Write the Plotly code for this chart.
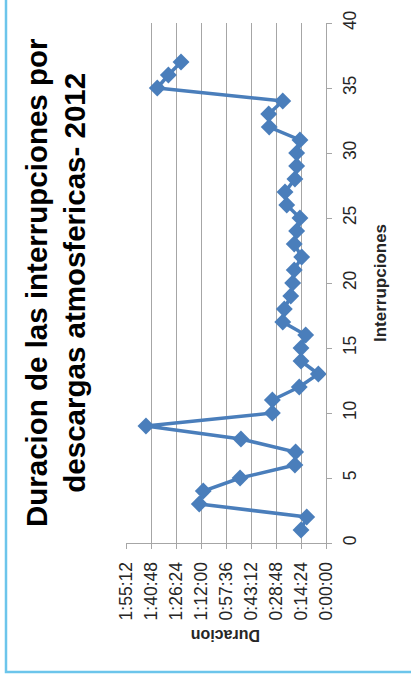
import pandas as pd
from plotly import graph_objs as go

# interruption number vs duration (h:mm:ss)
interrupciones = list(range(1, 38))
duracion = ["0:14:24", "0:11:06", "1:13:00", "1:10:42", "0:49:30", "0:17:54", "0:17:30", "0:49:00",
            "1:43:42", "0:30:54", "0:30:54", "0:15:24", "0:04:24", "0:14:24", "0:14:24", "0:11:42",
            "0:24:54", "0:24:00", "0:20:18", "0:19:12", "0:18:18", "0:14:00", "0:18:18", "0:16:54",
            "0:15:00", "0:22:36", "0:23:36", "0:17:54", "0:16:54", "0:16:54", "0:15:00", "0:32:42",
            "0:33:00", "0:24:54", "1:37:12", "1:30:48", "1:23:30"]
dur_ticks = ["0:00:00", "0:14:24", "0:28:48", "0:43:12", "0:57:36", "1:12:00", "1:26:24", "1:40:48", "1:55:12"]
int_ticks = [0, 5, 10, 15, 20, 25, 30, 35, 40]

secs = pd.to_timedelta(duracion).total_seconds()
tick_secs = pd.to_timedelta(dur_ticks).total_seconds()

blue = "#4A7EBB"
grid = "#A6A6A6"
txt = "#262626"

# the original excel chart is rotated 90 deg, so duration runs right-to-left along the bottom
fig = go.Figure()
fig.add_trace(go.Scatter(x=secs, y=interrupciones, mode="lines+markers",
                         line=dict(color=blue, width=3.5),
                         marker=dict(symbol="diamond", size=13, color=blue),
                         showlegend=False))

fig.update_xaxes(range=[tick_secs[-1], 0], tickvals=tick_secs, ticktext=dur_ticks, tickangle=-90,
                 showgrid=True, gridcolor=grid, gridwidth=1, showline=True, linecolor=grid,
                 ticks="outside", ticklen=5, tickcolor=grid, zeroline=False, automargin=False,
                 tickfont=dict(family="Liberation Sans", size=17.5, color=txt), ticklabelstandoff=6)
fig.update_yaxes(range=[0, 40], tickvals=int_ticks, side="right", tickangle=-90,
                 showgrid=False, showline=True, linecolor=grid, zeroline=False, automargin=False,
                 ticks="outside", ticklen=5, tickcolor=grid,
                 tickfont=dict(family="Liberation Sans", size=17.5, color=txt), ticklabelstandoff=3)

fig.add_annotation(text="Duracion de las interrupciones por<br>descargas atmosfericas- 2012",
                   xref="paper", yref="paper", x=-0.355, y=0.5, xanchor="center", yanchor="middle",
                   textangle=-90, showarrow=False,
                   font=dict(family="Liberation Sans", size=29.5, color="black", weight="bold"))
fig.add_annotation(text="Interrupciones", xref="paper", yref="paper", x=1.27, y=0.5,
                   xanchor="center", yanchor="middle", textangle=-90, showarrow=False,
                   font=dict(family="Liberation Sans", size=17, color=txt, weight="bold"))
fig.add_annotation(text="Duracion", xref="paper", yref="paper", x=0.5, y=-0.178,
                   xanchor="center", yanchor="middle", textangle=180, showarrow=False,
                   font=dict(family="Liberation Sans", size=16, color=txt, weight="bold"))

# light blue chart-area border (left and bottom edges visible)
fig.add_shape(type="path", xref="paper", yref="paper", path="M -0.6,1.1 L -0.6,-0.248 L 1.5,-0.248",
              line=dict(color="#6CC5EB", width=2.5))

fig.update_layout(width=411, height=679, margin=dict(l=126, r=85, t=23, b=136),
                  plot_bgcolor="white", paper_bgcolor="white")
fig.write_html("out.html", config={"displayModeBar": False},
               post_script="document.body.style.margin='0';")
